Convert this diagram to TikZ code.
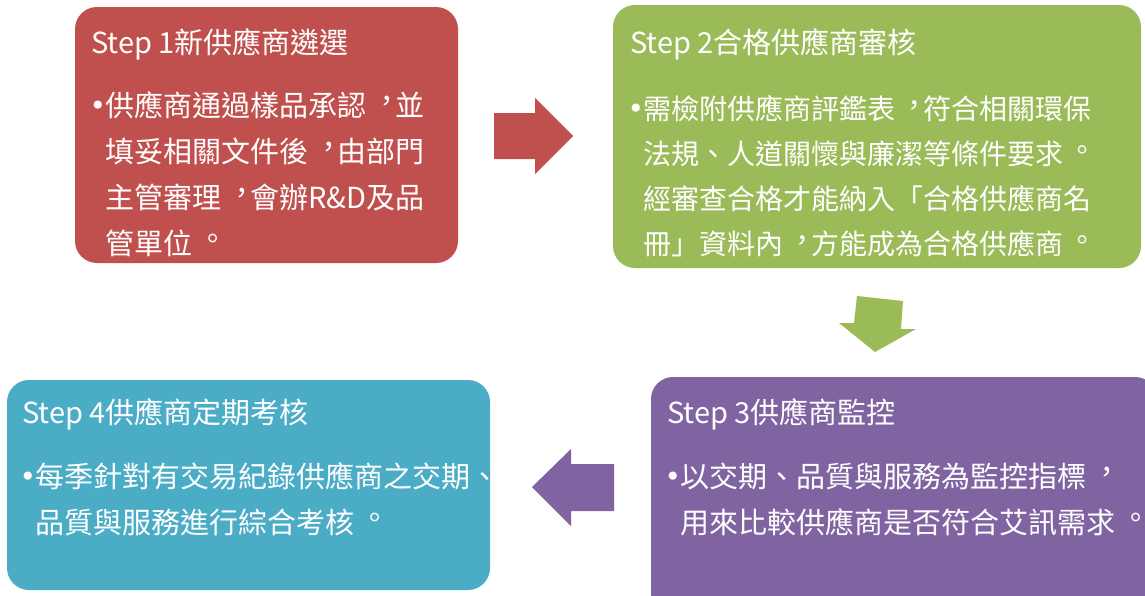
\documentclass[tikz,border=0pt]{standalone}
\usepackage{fontspec}
\setmainfont{Noto Sans CJK TC}
\newfontfamily\dotfont{DejaVu Sans}
\definecolor{stepred}{HTML}{C0504D}
\definecolor{stepgreen}{HTML}{9BBB59}
\definecolor{steppurple}{HTML}{8064A2}
\definecolor{stepteal}{HTML}{4BACC6}
\newcommand\stepdot{\llap{\raisebox{0.5pt}{\dotfont\fontsize{28}{28}\selectfont •}\hspace{-1pt}}}
% centred full-width punctuation
\newcommand\midpunct[1]{\makebox[1em][l]{\hspace{0.2em}\raisebox{0.14em}{#1}}}
\tikzset{
	stepbox/.style={rounded corners=22pt, inner sep=0pt, outer sep=0pt},
	steptitle/.style={anchor=base west, inner sep=0pt, text=white, font=\fontsize{29}{30}\selectfont},
	stepbody/.style={anchor=base west, inner sep=0pt, text=white, align=left, font=\fontsize{29}{46}\selectfont},
}
\begin{document}
\begin{tikzpicture}[x=1pt,y=-1pt]
		\clip (0,0) rectangle (1145,595);
		% boxes
		\path
			  (266.5,135) node[stepbox, fill=stepred,    minimum width=383, minimum height=256] (box1) {}
			  (877,136.5) node[stepbox, fill=stepgreen,  minimum width=528, minimum height=263] (box2) {}
			  (904,501)   node[stepbox, fill=steppurple, minimum width=506, minimum height=248] (box3) {}
			  (248.5,485) node[stepbox, fill=stepteal,   minimum width=483, minimum height=210] (box4) {}
		;
		% titles
		\node[steptitle] (title1) at (91,53)   {Step 1新供應商遴選};
		\node[steptitle] (title2) at (630,53)  {Step 2合格供應商審核};
		\node[steptitle] (title3) at (667,423) {Step 3供應商監控};
		\node[steptitle] (title4) at (22,423)  {Step 4供應商定期考核};
		% bodies (anchored on the last line)
		\node[stepbody] (body1) at (105,254) {\stepdot 供應商通過樣品承認\midpunct{，}並\\填妥相關文件後\midpunct{，}由部門\\主管審理\midpunct{，}會辦R\&D及品\\管單位\midpunct{。}};
		\node[stepbody, font=\fontsize{28}{45}\selectfont] (body2) at (643,254)
			{\stepdot 需檢附供應商評鑑表\midpunct{，}符合相關環保\\法規、人道關懷與廉潔等條件要求\midpunct{。}\\經審查合格才能納入「合格供應商名\\冊」資料內\midpunct{，}方能成為合格供應商\midpunct{。}};
		\node[stepbody] (body3) at (680,533) {\stepdot 以交期、品質與服務為監控指標\midpunct{，}\\用來比較供應商是否符合艾訊需求\midpunct{。}};
		\node[stepbody] (body4) at (35,533)  {\stepdot 每季針對有交易紀錄供應商之交期、\\品質與服務進行綜合考核\midpunct{。}};
		% block arrows
		\fill[stepred]    (494,113) -- (535,113) -- (535,98) -- (573,136) -- (535,174) -- (535,159) -- (494,159) -- cycle;
		\fill[stepgreen]  (857,296) -- (903,301) -- (901,329) -- (916,329) -- (875,352) -- (839,323) -- (854,323) -- cycle;
		\fill[steppurple] (614,464) -- (571,464) -- (571,449) -- (532,487) -- (571,526) -- (571,511) -- (614,511) -- cycle;
	\end{tikzpicture}
\end{document}
